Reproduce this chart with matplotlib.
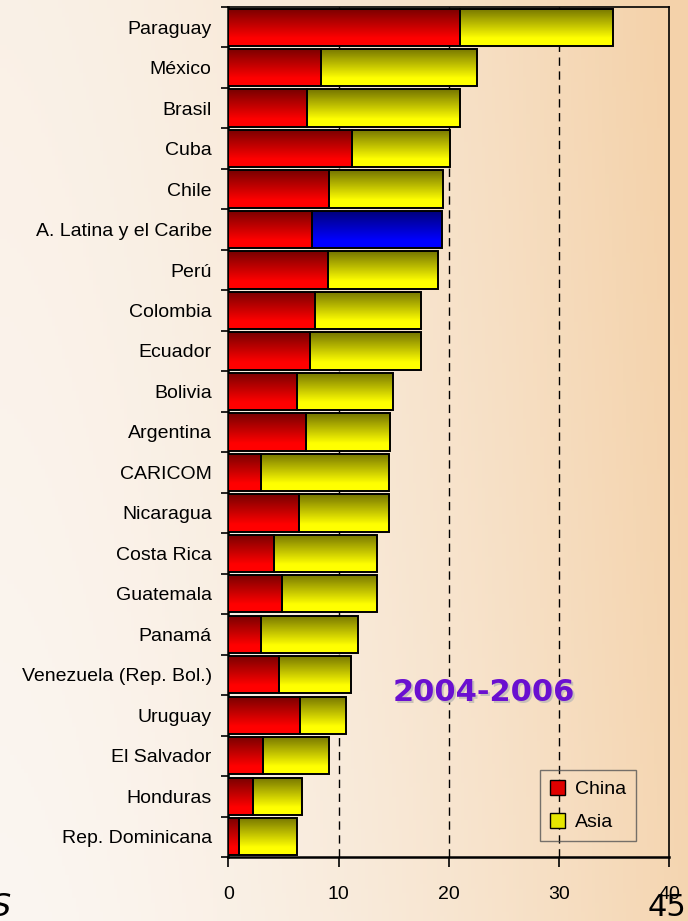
import numpy as np
import matplotlib.pyplot as plt
from matplotlib.colors import LinearSegmentedColormap
from matplotlib.patches import Patch

plt.rcParams['font.family'] = ['Liberation Sans', 'DejaVu Sans']

paises = ['Paraguay', 'México', 'Brasil', 'Cuba', 'Chile', 'A. Latina y el Caribe',
          'Perú', 'Colombia', 'Ecuador', 'Bolivia', 'Argentina', 'CARICOM',
          'Nicaragua', 'Costa Rica', 'Guatemala', 'Panamá', 'Venezuela (Rep. Bol.)',
          'Uruguay', 'El Salvador', 'Honduras', 'Rep. Dominicana']
china = [21.0, 8.4, 7.1, 11.2, 9.1, 7.6, 9.0, 7.9, 7.4, 6.2, 7.0, 3.0,
         6.4, 4.1, 4.9, 3.0, 4.6, 6.5, 3.1, 2.2, 1.0]
asia = [13.9, 14.2, 13.9, 8.9, 10.4, 11.8, 10.0, 9.6, 10.1, 8.7, 7.7, 11.6,
        8.2, 9.4, 8.6, 8.8, 6.5, 4.2, 6.0, 4.5, 5.2]
region = 'A. Latina y el Caribe'

ROJO = ('#780000', '#ff0000')
AMARILLO = ('#757500', '#ffff00')
AZUL = ('#000078', '#0000ff')

fig = plt.figure(figsize=(6.88, 9.21), dpi=100)

# fondo degradado de la diapositiva
fondo = fig.add_axes([0, 0, 1, 1], zorder=-10)
xx = np.linspace(0, 1, 200)
yy = np.linspace(0, 1, 200)
X, Y = np.meshgrid(xx, yy)
c0 = np.array([251, 246, 241]) / 255
c1 = np.array([244, 210, 170]) / 255
t = np.clip(X ** 1.6 * 0.9 + Y * 0.15, 0, 1)
img = c0[None, None, :] * (1 - t[..., None]) + c1[None, None, :] * t[..., None]
fondo.imshow(img, origin='lower', extent=[0, 1, 0, 1], aspect='auto')
fondo.axis('off')

ax = fig.add_axes([0.332, 0.0695, 0.6405, 0.923])
ax.set_facecolor('none')

n = len(paises)
pos = np.arange(n)[::-1]
alto = 0.92


def barra_degradada(y, izq, ancho, colores):
    rect = ax.barh(y, ancho, left=izq, height=alto, color='none',
                   edgecolor='black', linewidth=1.4, zorder=4)[0]
    cmap = LinearSegmentedColormap.from_list(
        'g', [(0, colores[1]), (0.2, colores[1]), (1, colores[0])])
    grad = np.linspace(0, 1, 64).reshape(-1, 1)
    im = ax.imshow(grad, extent=[izq, izq + ancho, y - alto / 2, y + alto / 2],
                   origin='lower', cmap=cmap, aspect='auto', zorder=3)
    im.set_clip_path(rect)


for p, nombre, c, a in zip(pos, paises, china, asia):
    barra_degradada(p, 0, c, ROJO)
    barra_degradada(p, c, a, AZUL if nombre == region else AMARILLO)

ax.set_xlim(0, 40)
ax.set_ylim(-0.5, n - 0.5)

for x in [10, 20, 30]:
    ax.axvline(x, color='black', linestyle=(0, (6, 4)), linewidth=1.0, zorder=1)

ax.set_xticks([0, 10, 20, 30, 40])
ax.tick_params(axis='x', length=7, width=1.2, pad=14, labelsize=14)

ax.set_yticks(np.arange(n + 1) - 0.5)
ax.set_yticklabels([])
ax.set_yticks(pos, minor=True)
ax.set_yticklabels(paises, minor=True)
ax.tick_params(axis='y', which='major', length=5, width=1.2)
ax.tick_params(axis='y', which='minor', length=0, pad=12, labelsize=14)

for lado in ['top', 'right']:
    ax.spines[lado].set_linewidth(1.2)
for lado in ['left', 'bottom']:
    ax.spines[lado].set_linewidth(1.8)

ley = ax.legend(handles=[Patch(facecolor='#e00000', edgecolor='black', label='China'),
                         Patch(facecolor='#e6e600', edgecolor='black', label='Asia')],
                loc='lower right', bbox_to_anchor=(0.925, 0.019), borderaxespad=0,
                fontsize=14, frameon=True, fancybox=False, edgecolor='#555555',
                handlelength=0.8, handleheight=0.8, handletextpad=0.5,
                borderpad=0.5, labelspacing=0.75)
ley.get_frame().set_facecolor('none')
ley.get_frame().set_linewidth(1.0)

ax.text(23.2 + 0.15, 3.57 - 0.06, '2004-2006', fontsize=22, fontweight='bold',
        family='DejaVu Sans', color='#c8c0b8', ha='center', va='center', zorder=5)
ax.text(23.2, 3.57, '2004-2006', fontsize=22, fontweight='bold',
        family='DejaVu Sans', color='#6a10d0', ha='center', va='center', zorder=6)

fig.text(648 / 688, 1 - 893 / 921, '45', fontsize=22, family='DejaVu Sans',
         ha='left', va='top')
fig.text(11 / 688, 1 - 916 / 921, 'S', fontsize=23, style='italic',
         family='DejaVu Sans', ha='right', va='baseline')

fig.savefig('out.png', dpi=100)
